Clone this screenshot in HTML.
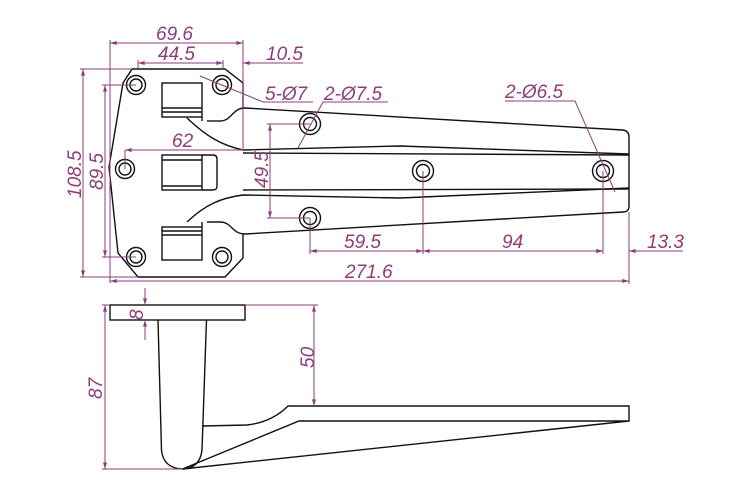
<!DOCTYPE html>
<html><head><style>html,body{margin:0;padding:0;background:#fff}svg{display:block}</style></head>
<body>
<svg width="750" height="500" viewBox="0 0 750 500" xmlns="http://www.w3.org/2000/svg">
<defs>
<marker id="a" viewBox="0 0 10 6" refX="10" refY="3" markerWidth="9" markerHeight="4" orient="auto-start-reverse" markerUnits="userSpaceOnUse"><path d="M0,0 L10,3 L0,6 z" fill="#8e3c7c"/></marker>
</defs>
<g fill="none" stroke="#111" stroke-width="1.4">
<!-- plate -->
<path d="M243,108 L243,83 L225,69 L132,69 L123,83 L109,167 L118,253 L138,277 L225,277 L243,258 L243,233"/>
<!-- arm -->
<path d="M220,121 C232,121 232,108 245,108 L623,130 Q629,131 629,137 L629,206 Q629,212 623,212 L245,234 C232,234 232,222 220,222 L207,222"/>
<path d="M207,121 L220,121"/>
<path d="M187,118 C205,135 220,145 243,150 L400,146 L629,154"/>
<path d="M243,153 L629,155"/>
<path d="M243,190 L629,189"/>
<path d="M187,222 C205,205 220,198 243,195 L400,198 L629,188"/>
<!-- knuckles -->
<rect x="162" y="83" width="40" height="34"/>
<path d="M162,108 H202 M162,112 H202"/>
<rect x="162" y="155" width="40" height="35"/>
<path d="M162,160 H202 M162,186 H202 M202,155 H213 Q217,155 217,159 V186 Q217,190 213,190 H202"/>
<rect x="162" y="227" width="40" height="33"/>
<path d="M162,231 H202 M162,235 H202"/>
<path d="M202,117 V121 M202,222 V227"/>
<!-- holes -->
<g>
<circle cx="136" cy="85" r="9.5"/><circle cx="136" cy="85" r="6"/>
<circle cx="222" cy="85" r="9.5"/><circle cx="222" cy="85" r="6"/>
<circle cx="125" cy="169" r="9.5"/><circle cx="125" cy="169" r="6"/>
<circle cx="136" cy="257" r="9.5"/><circle cx="136" cy="257" r="6"/>
<circle cx="222" cy="257" r="9.5"/><circle cx="222" cy="257" r="6"/>
<circle cx="310" cy="124" r="10.5"/><circle cx="310" cy="124" r="6.5"/>
<circle cx="310" cy="218" r="10.5"/><circle cx="310" cy="218" r="6.5"/>
<circle cx="423" cy="171" r="10.5"/><circle cx="423" cy="171" r="6.5"/>
<circle cx="603" cy="171" r="10.5"/><circle cx="603" cy="171" r="6.5"/>
</g>
<!-- side view -->
<rect x="110" y="305" width="135" height="15"/>
<path d="M158,320 L161.5,450 Q163,468 182.5,469 Q200,468 202,450 L206.5,320"/>
<path d="M202,426 L247,425 C265,423 278,416 288,406 L629,406 L629,421 L299,421 L182.5,469 L629,421"/>
</g>
<g stroke="#8e3c7c" stroke-width="1" fill="none">
<path d="M110,40 V283 M243,40 V150 M138,60 V69 M223,60 V69"/>
<path d="M110,43 H243" marker-start="url(#a)" marker-end="url(#a)"/>
<path d="M138,63 H223" marker-start="url(#a)" marker-end="url(#a)"/>
<path d="M303,63 H243" marker-end="url(#a)"/>
<path d="M80,69 H132 M80,277 H138"/>
<path d="M83,69 V277" marker-start="url(#a)" marker-end="url(#a)"/>
<path d="M102,85 H136 M102,257 H136"/>
<path d="M105,85 V257" marker-start="url(#a)" marker-end="url(#a)"/>
<path d="M125,150 V169"/>
<path d="M243,150 H125" marker-end="url(#a)"/>
<path d="M267,124 H310 M267,218 H310"/>
<path d="M270,124 V218" marker-start="url(#a)" marker-end="url(#a)"/>
<path d="M200,76 L263,102 H313"/>
<path d="M323,102 H388 M323,102 L298,148"/>
<path d="M505,101 H575 L615,192"/>
<path d="M310,218 V254 M423,171 V254 M603,171 V254 M629,212 V284"/>
<path d="M310,251 H423" marker-start="url(#a)" marker-end="url(#a)"/>
<path d="M423,251 H603" marker-start="url(#a)" marker-end="url(#a)"/>
<path d="M583,251 H603" marker-end="url(#a)"/>
<path d="M683,251 H629" marker-end="url(#a)"/>
<path d="M110,281 H629" marker-start="url(#a)" marker-end="url(#a)"/>
<path d="M145,288 V305" marker-end="url(#a)"/>
<path d="M145,340 V320" marker-end="url(#a)"/>
<path d="M245,305 H318"/>
<path d="M314,305 V406" marker-start="url(#a)" marker-end="url(#a)"/>
<path d="M102,305 H110 M102,469 H183"/>
<path d="M105,305 V469" marker-start="url(#a)" marker-end="url(#a)"/>
</g>
<g fill="#8e3c7c" font-family="Liberation Sans, sans-serif" font-style="italic" font-size="19">
<text x="156" y="40">69.6</text>
<text x="158" y="60">44.5</text>
<text x="266" y="60">10.5</text>
<text x="265" y="100">5-Ø7</text>
<text x="324" y="100">2-Ø7.5</text>
<text x="505" y="98">2-Ø6.5</text>
<text x="172" y="147">62</text>
<text x="344" y="248">59.5</text>
<text x="502" y="248">94</text>
<text x="647" y="248">13.3</text>
<text x="345" y="278">271.6</text>
<text transform="translate(81,198) rotate(-90)">108.5</text>
<text transform="translate(103,190) rotate(-90)">89.5</text>
<text transform="translate(268,188) rotate(-90)">49.5</text>
<text transform="translate(143,320) rotate(-90)">8</text>
<text transform="translate(314,368) rotate(-90)">50</text>
<text transform="translate(102,399) rotate(-90)">87</text>
</g>
</svg>
</body></html>
